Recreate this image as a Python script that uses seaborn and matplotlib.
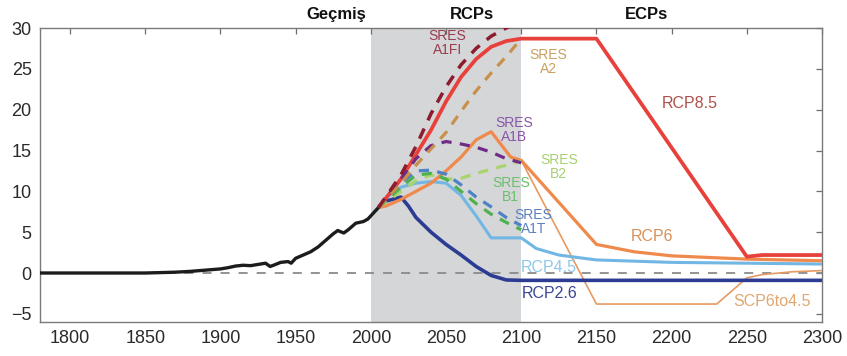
import matplotlib
matplotlib.use("Agg")
import matplotlib.pyplot as plt
import matplotlib.transforms as mtransforms
import seaborn as sns
import pandas as pd

sns.set_theme(style="white")
plt.rcParams["font.family"] = ["Liberation Sans", "DejaVu Sans"]

# Observed history
hist_years = [1780, 1850, 1860, 1870, 1880, 1890, 1900, 1905, 1910, 1915, 1920, 1925,
              1930, 1933, 1936, 1940, 1945, 1947, 1950, 1955, 1960, 1965, 1970, 1975,
              1978, 1982, 1985, 1990, 1995, 1998, 2000, 2005]
hist_vals = [0.0, 0.0, 0.05, 0.1, 0.2, 0.35, 0.5, 0.65, 0.85, 0.95, 0.9, 1.05,
             1.2, 0.8, 1.0, 1.3, 1.4, 1.2, 1.8, 2.2, 2.6, 3.2, 4.0, 4.8,
             5.2, 4.9, 5.3, 6.1, 6.3, 6.6, 7.0, 8.0]

# SRES scenarios (2005-2100)
sres_years = [2005, 2020, 2030, 2040, 2050, 2060, 2070, 2080, 2090, 2100]
sres_a1fi = [8.0, 12.0, 15.5, 19.5, 22.8, 25.5, 27.5, 29.0, 30.0, 31.0]
sres_a2 = [8.0, 11.0, 13.2, 15.2, 17.2, 19.8, 22.3, 24.5, 26.5, 28.7]
sres_a1b = [8.0, 11.5, 14.0, 15.6, 16.1, 15.8, 15.4, 14.8, 14.0, 13.5]
sres_b2 = [8.0, 10.0, 11.3, 12.0, 11.5, 11.6, 12.2, 12.7, 13.2, 13.7]
sres_b1 = [8.0, 10.5, 12.0, 12.2, 11.5, 10.0, 8.5, 7.2, 6.2, 5.3]
sres_a1t = [8.0, 11.0, 12.5, 12.6, 12.1, 10.8, 9.3, 8.1, 6.8, 5.8]

# RCP / ECP pathways (2005-2300)
rcp85_years = [2005, 2020, 2030, 2040, 2050, 2060, 2070, 2080, 2090, 2100, 2150, 2250, 2260, 2300]
rcp85_vals = [8.0, 11.5, 14.5, 17.5, 21.0, 24.0, 26.2, 27.7, 28.4, 28.7, 28.7, 2.0, 2.2, 2.2]

rcp6_years = [2005, 2010, 2020, 2030, 2040, 2050, 2060, 2070, 2080, 2093, 2100, 2150, 2175, 2200, 2250, 2300]
rcp6_vals = [8.0, 8.2, 9.0, 10.0, 11.0, 12.5, 14.2, 16.3, 17.3, 14.2, 13.8, 3.5, 2.6, 2.1, 1.7, 1.5]

scp_years = [2005, 2010, 2020, 2030, 2040, 2050, 2060, 2070, 2080, 2093, 2100, 2150, 2230, 2250, 2260, 2280, 2300]
scp_vals = [8.0, 8.2, 9.0, 10.0, 11.0, 12.5, 14.2, 16.3, 17.3, 14.2, 13.8, -3.8, -3.8, -0.6, -0.2, 0.15, 0.3]

rcp45_years = [2005, 2010, 2020, 2030, 2040, 2050, 2060, 2070, 2080, 2100, 2110, 2125, 2150, 2200, 2300]
rcp45_vals = [8.0, 9.2, 10.5, 11.0, 11.2, 11.0, 9.5, 7.0, 4.3, 4.3, 3.0, 2.2, 1.6, 1.3, 1.1]

rcp26_years = [2005, 2010, 2020, 2025, 2030, 2040, 2050, 2060, 2070, 2080, 2090, 2100, 2300]
rcp26_vals = [8.0, 8.8, 9.3, 8.2, 6.8, 5.0, 3.5, 2.2, 0.8, -0.3, -0.85, -0.9, -0.9]

fig = plt.figure(figsize=(8.47, 3.56), dpi=100)
ax = fig.add_axes([0.0472, 0.0955, 0.9233, 0.8258])

ax.axvspan(2000, 2100, color="#d5d6d8", zorder=0, lw=0)
ax.axhline(0, color="#8a8a8a", lw=1.3, ls=(0, (5, 5)), zorder=1)


def draw(years, vals, color, lw, dashed=False, z=3):
    df = pd.DataFrame({"year": years, "value": vals})
    line_ax = sns.lineplot(data=df, x="year", y="value", ax=ax, color=color,
                           lw=lw, zorder=z, sort=False, estimator=None)
    line = line_ax.lines[-1]
    if dashed:
        line.set_dashes((3.2, 2.6))
    line.set_solid_capstyle("butt")
    return line


draw(hist_years, hist_vals, "#1c1c1c", 2.4, z=5)
draw(scp_years, scp_vals, "#e79a60", 1.2, z=3)
draw(rcp26_years, rcp26_vals, "#2c3c92", 2.6, z=3)
draw(rcp45_years, rcp45_vals, "#72b6e4", 2.2, z=3)
draw(rcp6_years, rcp6_vals, "#f08a4c", 2.3, z=3)
draw(rcp85_years, rcp85_vals, "#e8403a", 2.7, z=4)
draw(sres_years, sres_b2, "#a8d46c", 2.3, dashed=True, z=4)
draw(sres_years, sres_b1, "#4fb04e", 2.3, dashed=True, z=4)
draw(sres_years, sres_a1t, "#4d82c6", 2.3, dashed=True, z=4)
draw(sres_years, sres_a1b, "#6e2c86", 2.3, dashed=True, z=4)
draw(sres_years, sres_a2, "#c8904a", 2.3, dashed=True, z=4)
draw(sres_years, sres_a1fi, "#8c1c2e", 2.5, dashed=True, z=4)

ax.set_xlim(1780, 2300)
ax.set_ylim(-6, 30)
ax.set_xticks(range(1800, 2301, 50))
ax.set_yticks(range(-5, 31, 5))
ax.set_xlabel("")
ax.set_ylabel("")
ax.tick_params(direction="in", top=True, right=True, length=4, width=0.9,
               colors="#6e6e6e", labelcolor="#2a2a2a", labelsize=13, pad=6)
for s in ax.spines.values():
    s.set_color("#7a7a7a")
    s.set_linewidth(1.0)

# Period headers above the plot
trans = mtransforms.blended_transform_factory(ax.transData, ax.transAxes)
for x, txt in [(1977, "Geçmiş"), (2067, "RCPs"), (2183, "ECPs")]:
    ax.text(x, 1.045, txt, transform=trans, ha="center", va="center",
            fontsize=12, fontweight="heavy", color="#111111")

# Scenario labels
sres_labels = [
    (2051, 28.2, "SRES\nA1FI", "#9a3b4e"),
    (2118, 25.8, "SRES\nA2", "#c9a060"),
    (2095, 17.5, "SRES\nA1B", "#8a55a8"),
    (2125, 13.0, "SRES\nB2", "#a8d070"),
    (2093, 10.2, "SRES\nB1", "#6bbf6b"),
    (2108, 6.2, "SRES\nA1T", "#5a7ec0"),
]
for x, y, txt, c in sres_labels:
    ax.text(x, y, txt, ha="center", va="center", fontsize=10, color=c,
            linespacing=1.0, zorder=6)

rcp_labels = [
    (2212, 20.7, "RCP8.5", "#b0504a"),
    (2187, 4.5, "RCP6", "#d8905a"),
    (2118, 0.7, "RCP4.5", "#8ec8ea"),
    (2119, -2.45, "RCP2.6", "#3a4595"),
    (2267, -3.55, "SCP6to4.5", "#e0a870"),
]
for x, y, txt, c in rcp_labels:
    ax.text(x, y, txt, ha="center", va="center", fontsize=11.5, color=c, zorder=6)

fig.savefig("out.png", dpi=100)
